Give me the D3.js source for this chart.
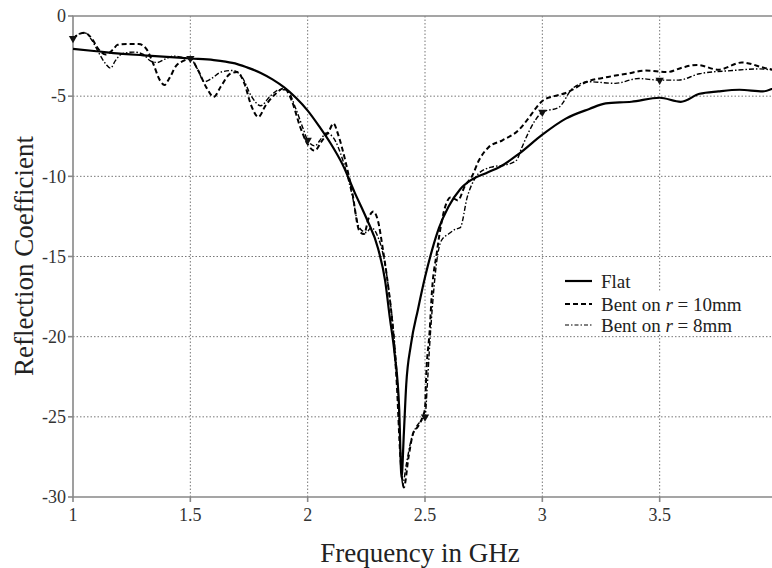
<!DOCTYPE html>
<html>
<head>
    <script src="https://d3js.org/d3.v7.min.js"></script>
    <style>
        body { margin: 0; background: #fff; }
        svg { font-family: "Liberation Serif", "Times New Roman", serif; }
        .grid line { stroke: #777; stroke-width: 1; stroke-dasharray: 1.5,2; }
        .frame { stroke: #888; stroke-width: 1.6; fill: none; }
        .tick-label { font-size: 18px; fill: #333; }
        .axis-title { font-size: 27px; fill: #222; }
        .legend text { font-size: 19px; fill: #222; }
    </style>
</head>
<body>
    <svg width="772" height="568"></svg>
    <script>
        // Flat antenna
        var flatFreq = [1.0, 1.1, 1.2, 1.3, 1.4, 1.5, 1.6, 1.65, 1.7, 1.75, 1.8, 1.85, 1.9, 1.95, 2.0, 2.05, 2.1, 2.15, 2.2, 2.25, 2.3, 2.33, 2.35, 2.37, 2.39, 2.40, 2.41, 2.42, 2.44, 2.47, 2.5, 2.53, 2.56, 2.6, 2.65, 2.7, 2.76, 2.82, 2.9, 3.0, 3.1, 3.2, 3.27, 3.38, 3.5, 3.59, 3.67, 3.75, 3.84, 3.94, 4.0];
        var flatS11 = [-2.05, -2.2, -2.35, -2.45, -2.55, -2.65, -2.75, -2.85, -3.0, -3.25, -3.55, -3.95, -4.45, -5.1, -5.9, -6.9, -8.0, -9.3, -11.0, -12.6, -14.5, -16.5, -18.8, -21.0, -24.5, -28.8, -26.0, -23.0, -20.5, -18.3, -16.3, -14.6, -13.2, -11.9, -10.8, -10.2, -9.8, -9.4, -8.6, -7.4, -6.4, -5.8, -5.45, -5.35, -5.1, -5.35, -4.85, -4.7, -4.6, -4.7, -4.4];

        // Bent on r = 10mm
        var bent10Freq = [1.0, 1.03, 1.05, 1.08, 1.11, 1.14, 1.17, 1.19, 1.23, 1.28, 1.31, 1.34, 1.37, 1.39, 1.41, 1.44, 1.47, 1.5, 1.53, 1.57, 1.6, 1.63, 1.67, 1.7, 1.73, 1.76, 1.79, 1.82, 1.86, 1.9, 1.93, 1.97, 2.0, 2.03, 2.06, 2.09, 2.11, 2.13, 2.16, 2.19, 2.22, 2.24, 2.26, 2.28, 2.3, 2.32, 2.34, 2.36, 2.38, 2.395, 2.41, 2.43, 2.45, 2.47, 2.49, 2.5, 2.505, 2.52, 2.53, 2.55, 2.57, 2.61, 2.64, 2.67, 2.7, 2.73, 2.77, 2.83, 2.9, 2.94, 2.97, 3.0, 3.05, 3.1, 3.19, 3.28, 3.36, 3.44, 3.53, 3.6, 3.66, 3.75, 3.85, 3.95, 4.0];
        var bent10S11 = [-1.4, -1.1, -1.05, -1.4, -2.1, -2.4, -2.1, -1.8, -1.75, -1.75, -2.0, -2.9, -4.0, -4.3, -3.9, -3.1, -2.8, -2.65, -3.3, -4.5, -5.05, -4.4, -3.6, -3.5, -4.2, -5.6, -6.3, -5.6, -4.9, -4.5, -5.2, -7.0, -8.0, -8.4, -7.8, -7.2, -6.7, -7.4, -9.0, -11.0, -13.4, -13.6, -12.6, -12.2, -12.8, -14.5, -16.5, -19.0, -23.0, -27.5, -29.4, -27.5, -26.0, -25.6, -25.0, -24.5, -22.5, -19.6, -17.1, -14.8, -12.9, -11.3, -11.5, -10.6, -10.0, -9.0, -8.2, -7.75, -7.1, -6.4, -5.8, -5.3, -5.0, -4.8, -4.1, -3.8, -3.6, -3.4, -3.5, -3.2, -3.05, -3.35, -2.9, -3.25, -3.4];

        // Bent on r = 8mm
        var bent8Freq = [1.0, 1.03, 1.05, 1.08, 1.11, 1.14, 1.16, 1.18, 1.21, 1.26, 1.3, 1.33, 1.36, 1.39, 1.43, 1.47, 1.5, 1.53, 1.56, 1.59, 1.63, 1.68, 1.72, 1.76, 1.8, 1.84, 1.88, 1.91, 1.95, 1.98, 2.0, 2.03, 2.06, 2.08, 2.11, 2.15, 2.19, 2.22, 2.25, 2.27, 2.3, 2.33, 2.35, 2.37, 2.385, 2.395, 2.405, 2.42, 2.44, 2.46, 2.48, 2.5, 2.51, 2.52, 2.535, 2.55, 2.57, 2.6, 2.63, 2.65, 2.68, 2.71, 2.73, 2.79, 2.84, 2.89, 2.91, 2.94, 2.97, 3.0, 3.07, 3.13, 3.2, 3.31, 3.41, 3.5, 3.58, 3.67, 3.81, 3.92, 4.0];
        var bent8S11 = [-1.4, -1.1, -1.05, -1.5, -2.3, -3.0, -3.25, -2.8, -2.35, -2.25, -2.4, -2.8, -2.9, -2.7, -2.5, -2.6, -2.65, -3.3, -4.1, -3.9, -3.5, -3.4, -3.8, -5.0, -5.6, -5.0, -4.6, -4.6, -5.8, -7.0, -7.75, -8.1, -7.6, -7.3, -7.6, -9.0, -11.2, -13.2, -13.5, -13.2, -13.8, -15.5, -17.6, -20.3, -23.5, -27.0, -29.2, -28.0, -26.5, -25.7, -25.3, -25.0, -23.0, -20.5, -17.5, -15.3, -14.0, -13.6, -13.3, -13.2, -11.3, -10.2, -9.8, -9.4, -9.3, -9.0, -8.3, -7.3, -6.5, -6.0, -5.7, -4.5, -4.1, -4.2, -3.9, -4.0, -4.0, -3.6, -3.4, -3.3, -3.4];

        var xTicks = [1, 1.5, 2, 2.5, 3, 3.5, 4];
        var yTicks = [0, -5, -10, -15, -20, -25, -30];
        var markerFreqs = [1, 1.5, 2, 2.5, 3, 3.5];

        var svg = d3.select("svg"),
            plotLeft = 73, plotRight = 777, plotTop = 16, plotBottom = 497, edge = 772;

        var x = d3.scaleLinear().domain([1, 4]).range([plotLeft, plotRight]);
        var y = d3.scaleLinear().domain([0, -30]).range([plotTop, plotBottom]);

        // grid
        var grid = svg.append("g").attr("class", "grid");
        grid.selectAll(".gx")
            .data(xTicks.slice(1, -1))
            .enter().append("line")
            .attr("x1", function(d) { return x(d); })
            .attr("x2", function(d) { return x(d); })
            .attr("y1", plotTop).attr("y2", plotBottom);
        grid.selectAll(".gy")
            .data(yTicks.slice(1, -1))
            .enter().append("line")
            .attr("x1", plotLeft).attr("x2", edge)
            .attr("y1", function(d) { return y(d); })
            .attr("y2", function(d) { return y(d); });

        // frame
        svg.append("path").attr("class", "frame")
            .attr("d", "M" + edge + "," + plotTop + "H" + plotLeft + "V" + plotBottom + "H" + edge);

        // ticks + labels
        svg.selectAll(".ytick")
            .data(yTicks)
            .enter().append("line")
            .attr("class", "frame")
            .attr("x1", plotLeft - 5).attr("x2", plotLeft)
            .attr("y1", function(d) { return y(d); })
            .attr("y2", function(d) { return y(d); });
        svg.selectAll(".ylab")
            .data(yTicks)
            .enter().append("text")
            .attr("class", "tick-label")
            .attr("x", plotLeft - 7)
            .attr("y", function(d) { return y(d); })
            .attr("dy", "0.35em")
            .attr("text-anchor", "end")
            .text(function(d) { return d; });

        svg.selectAll(".xtick")
            .data(xTicks)
            .enter().append("line")
            .attr("class", "frame")
            .attr("x1", function(d) { return x(d); })
            .attr("x2", function(d) { return x(d); })
            .attr("y1", plotBottom).attr("y2", plotBottom + 5);
        svg.selectAll(".xlab")
            .data(xTicks)
            .enter().append("text")
            .attr("class", "tick-label")
            .attr("x", function(d) { return x(d); })
            .attr("y", 521)
            .attr("text-anchor", "middle")
            .text(function(d) { return d; });

        svg.append("text")
            .attr("class", "axis-title")
            .attr("x", 420).attr("y", 562)
            .attr("text-anchor", "middle")
            .text("Frequency in GHz");

        svg.append("text")
            .attr("class", "axis-title")
            .attr("transform", "translate(33,256) rotate(-90)")
            .attr("text-anchor", "middle")
            .text("Reflection Coefficient");

        // curves
        var line = d3.line()
            .x(function(d) { return x(d[0]); })
            .y(function(d) { return y(d[1]); })
            .curve(d3.curveMonotoneX);

        var plot = svg.append("g");

        var series = [
            { f: bent8Freq, v: bent8S11, width: 1.4, dash: "5,2,1.5,2" },
            { f: bent10Freq, v: bent10S11, width: 2, dash: "5,3" },
            { f: flatFreq, v: flatS11, width: 2.2, dash: null }
        ];

        series.forEach(function(s) {
            plot.append("path")
                .datum(d3.zip(s.f, s.v))
                .attr("d", line)
                .attr("fill", "none")
                .attr("stroke", "#000")
                .attr("stroke-width", s.width)
                .attr("stroke-dasharray", s.dash);
        });

        // triangle markers on the r = 8mm trace
        var tri = d3.symbol().type(d3.symbolTriangle).size(30);
        var interp8 = function(f) {
            var i = d3.bisectLeft(bent8Freq, f);
            if (bent8Freq[i] === f || i === 0) return bent8S11[i];
            var t = (f - bent8Freq[i - 1]) / (bent8Freq[i] - bent8Freq[i - 1]);
            return bent8S11[i - 1] + t * (bent8S11[i] - bent8S11[i - 1]);
        };
        plot.selectAll(".mk")
            .data(markerFreqs)
            .enter().append("path")
            .attr("d", tri)
            .attr("fill", "#111")
            .attr("transform", function(d) { return "translate(" + x(d) + "," + y(interp8(d)) + ") rotate(180)"; });

        // legend
        var legend = svg.append("g").attr("class", "legend");
        legend.append("rect").attr("x", 556).attr("y", 268).attr("width", 86).attr("height", 23).attr("fill", "#fff");
        legend.append("rect").attr("x", 556).attr("y", 291).attr("width", 216).attr("height", 43).attr("fill", "#fff");

        var legendRows = [
            { label: "Flat", r: null, width: 2.2, dash: null, yy: 281 },
            { label: "Bent on ", r: " = 10mm", width: 2.2, dash: "5,3", yy: 304 },
            { label: "Bent on ", r: " = 8mm", width: 1.2, dash: "4,2,1.5,2", yy: 325 }
        ];
        legendRows.forEach(function(row) {
            legend.append("line")
                .attr("x1", 565).attr("x2", 592)
                .attr("y1", row.yy).attr("y2", row.yy)
                .attr("stroke", "#000")
                .attr("stroke-width", row.width)
                .attr("stroke-dasharray", row.dash);
            var t = legend.append("text")
                .attr("x", 601).attr("y", row.yy).attr("dy", "0.35em");
            t.append("tspan").text(row.label);
            if (row.r) {
                t.append("tspan").style("font-style", "italic").text("r");
                t.append("tspan").text(row.r);
            }
        });
    </script>
</body>
</html>
